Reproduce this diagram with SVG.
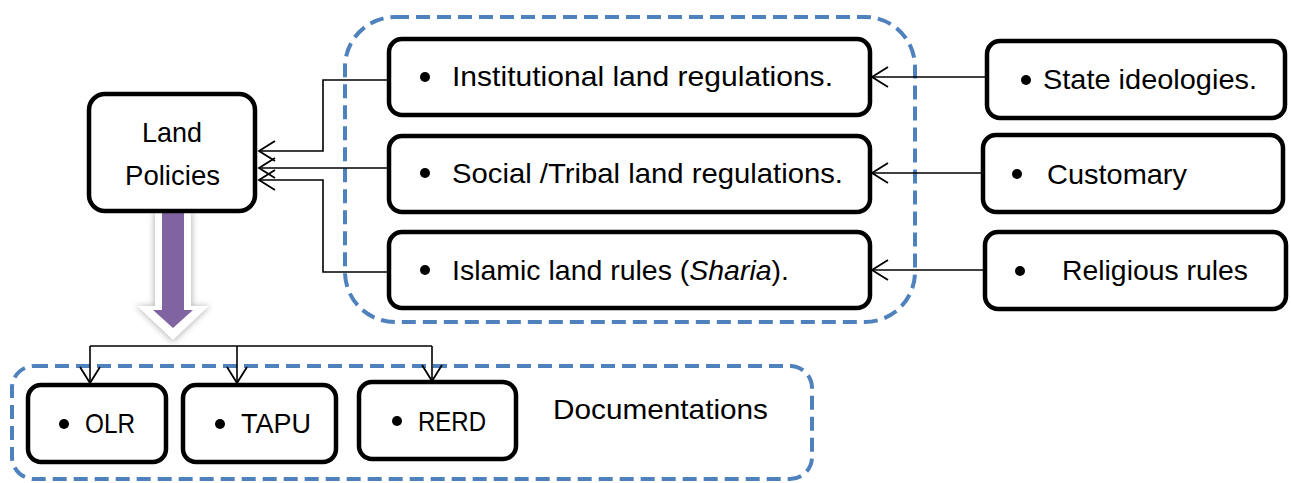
<svg xmlns="http://www.w3.org/2000/svg" width="1291" height="483" viewBox="0 0 1291 483">
<style>
.box{fill:#fff;stroke:#000;stroke-width:4.5}
.grp{fill:none;stroke:#4F81BD;stroke-width:4;stroke-dasharray:14 7}
.t{font-family:"Liberation Sans",Arial,sans-serif;font-size:28px;fill:#000}
.c{fill:none;stroke:#000;stroke-width:1.6}
.dot{fill:#000}
</style>
<defs>
<marker id="arr" markerWidth="20" markerHeight="24" refX="17" refY="11" orient="auto" markerUnits="userSpaceOnUse">
<path d="M1,1 L17,11 L1,21" fill="none" stroke="#000" stroke-width="1.8"/>
</marker>
<filter id="sh" x="-30%" y="-30%" width="160%" height="160%">
<feGaussianBlur stdDeviation="3"/>
</filter>
</defs>
<g id="group-middle"><rect class="grp" x="345" y="17" width="570" height="305" rx="50"/></g>
<g id="group-docs"><rect class="grp" x="12" y="366" width="800" height="113" rx="22"/></g>
<g id="connectors">
<polyline class="c" points="388,80 323,80 323,151 259,151" marker-end="url(#arr)"/>
<polyline class="c" points="388,168 259,168" marker-end="url(#arr)"/>
<polyline class="c" points="388,272 323,272 323,180 259,180" marker-end="url(#arr)"/>
<polyline class="c" points="986,77 872,77" marker-end="url(#arr)"/>
<polyline class="c" points="982,173 872,173" marker-end="url(#arr)"/>
<polyline class="c" points="984,270 872,270" marker-end="url(#arr)"/>
<polyline class="c" points="90,346 432,346"/>
<polyline class="c" points="90,346 90,383" marker-end="url(#arr)"/>
<polyline class="c" points="237,346 237,383" marker-end="url(#arr)"/>
<polyline class="c" points="432,346 432,381" marker-end="url(#arr)"/>
</g>
<g id="big-arrow">
<polygon points="154,212 192,212 192,306 210,306 173,342 136,306 154,306" fill="#999" filter="url(#sh)" opacity="0.7"/>
<polygon points="155,212 191,212 191,306 209,306 173,340 137,306 155,306" fill="#fff"/>
<polygon points="162,212 184,212 184,310 193,310 173,328 153,310 162,310" fill="#8064A2"/>
</g>
<g id="land-policies">
<rect class="box" x="89" y="94" width="166" height="117" rx="16"/>
<text class="t" x="142" y="142" textLength="60" lengthAdjust="spacingAndGlyphs">Land</text>
<text class="t" x="125" y="185" textLength="95" lengthAdjust="spacingAndGlyphs">Policies</text>
</g>
<g id="institutional">
<rect class="box" x="389" y="39" width="481" height="76" rx="13"/>
<circle class="dot" cx="425" cy="77" r="5"/>
<text class="t" x="452" y="86" textLength="381" lengthAdjust="spacingAndGlyphs">Institutional land regulations.</text>
</g>
<g id="social">
<rect class="box" x="389" y="136" width="481" height="76" rx="13"/>
<circle class="dot" cx="425" cy="173" r="5"/>
<text class="t" x="452" y="183" textLength="391" lengthAdjust="spacingAndGlyphs">Social /Tribal land regulations.</text>
</g>
<g id="islamic">
<rect class="box" x="389" y="232" width="481" height="76" rx="13"/>
<circle class="dot" cx="425" cy="270" r="5"/>
<text class="t" x="452" y="280" textLength="337" lengthAdjust="spacingAndGlyphs">Islamic land rules (<tspan font-style="italic">Sharia</tspan>).</text>
</g>
<g id="state">
<rect class="box" x="987" y="41" width="298" height="77" rx="13"/>
<circle class="dot" cx="1026" cy="80" r="5"/>
<text class="t" x="1043" y="89" textLength="214" lengthAdjust="spacingAndGlyphs">State ideologies.</text>
</g>
<g id="customary">
<rect class="box" x="983" y="135" width="300" height="77" rx="13"/>
<circle class="dot" cx="1017" cy="174" r="5"/>
<text class="t" x="1047" y="184" textLength="140" lengthAdjust="spacingAndGlyphs">Customary</text>
</g>
<g id="religious">
<rect class="box" x="985" y="232" width="301" height="77" rx="13"/>
<circle class="dot" cx="1020" cy="271" r="5"/>
<text class="t" x="1062" y="280" textLength="186" lengthAdjust="spacingAndGlyphs">Religious rules</text>
</g>
<g id="olr">
<rect class="box" x="28" y="385" width="138" height="77" rx="13"/>
<circle class="dot" cx="64" cy="424" r="5"/>
<text class="t" x="85" y="433" textLength="50" lengthAdjust="spacingAndGlyphs">OLR</text>
</g>
<g id="tapu">
<rect class="box" x="183" y="385" width="153" height="77" rx="13"/>
<circle class="dot" cx="220" cy="424" r="5"/>
<text class="t" x="241" y="433" textLength="70" lengthAdjust="spacingAndGlyphs">TAPU</text>
</g>
<g id="rerd">
<rect class="box" x="359" y="382" width="157" height="77" rx="13"/>
<circle class="dot" cx="397" cy="421" r="5"/>
<text class="t" x="418" y="431" textLength="68" lengthAdjust="spacingAndGlyphs">RERD</text>
</g>
<g id="documentations">
<text class="t" x="553" y="419" textLength="215" lengthAdjust="spacingAndGlyphs">Documentations</text>
</g>
</svg>
